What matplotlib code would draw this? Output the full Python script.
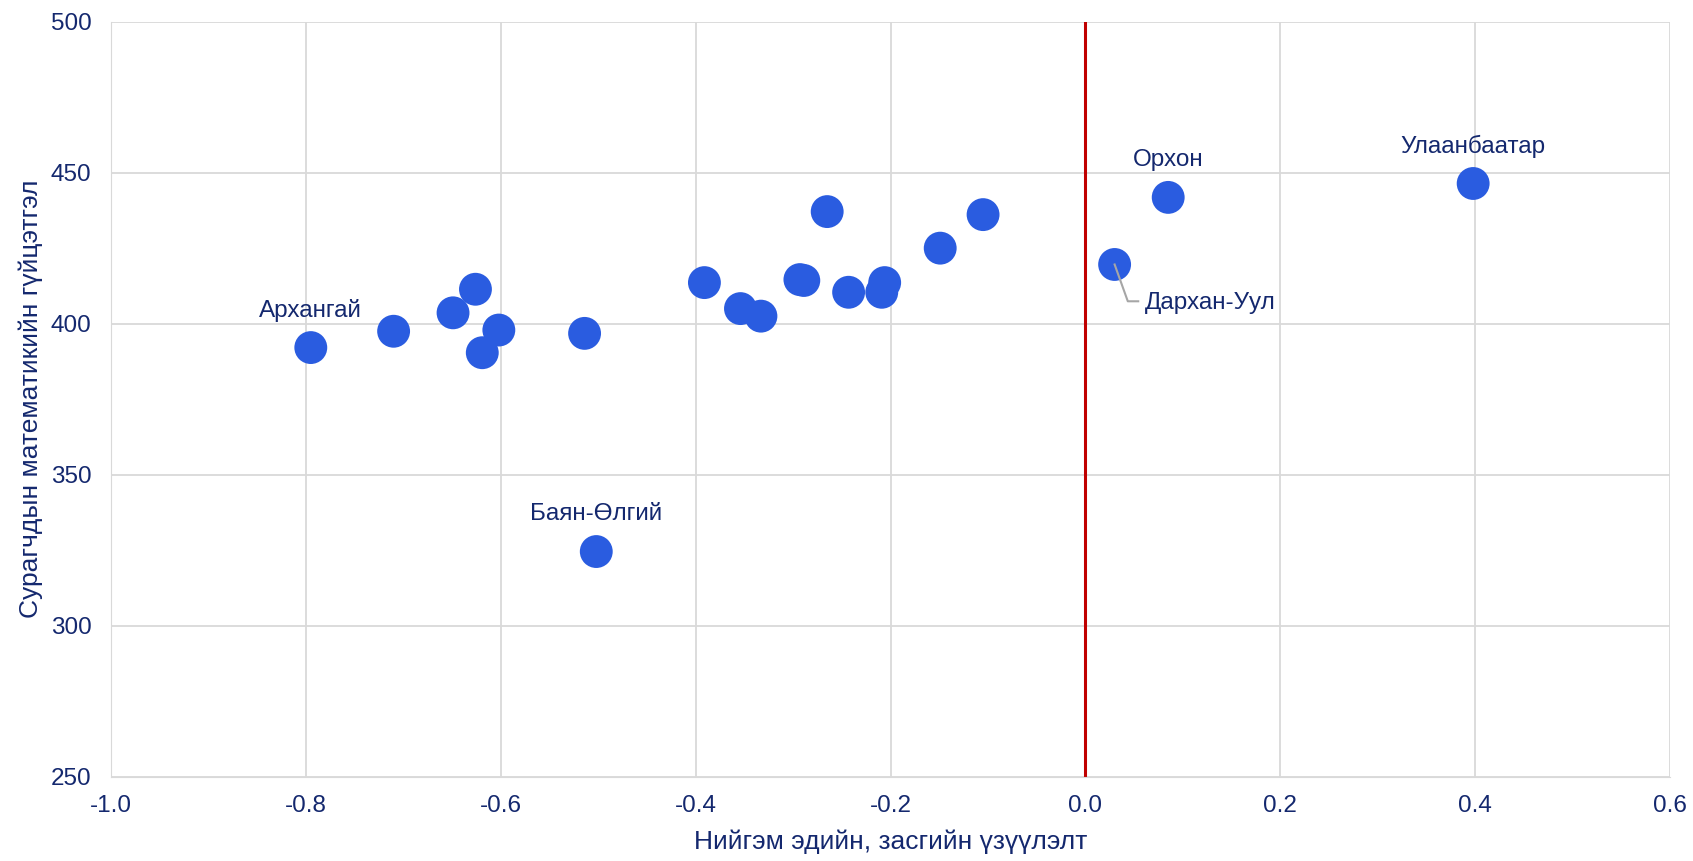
import matplotlib.pyplot as plt

# aimag level data: socio-economic index vs. student math achievement
ses_index = [-0.795, -0.710, -0.649, -0.626, -0.619, -0.602, -0.514, -0.502,
             -0.391, -0.354, -0.333, -0.293, -0.289, -0.265, -0.243, -0.209,
             -0.206, -0.149, -0.105, 0.030, 0.085, 0.398]
math_score = [392.1, 397.5, 403.6, 411.4, 390.4, 397.9, 396.8, 324.6,
              413.6, 405.0, 402.5, 414.6, 414.3, 437.1, 410.4, 410.4,
              413.6, 425.0, 436.1, 419.6, 441.8, 446.4]
labels = {0: 'Архангай', 7: 'Баян-Өлгий', 20: 'Орхон', 21: 'Улаанбаатар'}
callout_idx = 19
callout_text = 'Дархан-Уул'

xticks = [-1.0, -0.8, -0.6, -0.4, -0.2, 0.0, 0.2, 0.4, 0.6]
yticks = [250, 300, 350, 400, 450, 500]

navy = '#14286E'
blue = '#2A5CE0'
grid_c = '#D9D9D9'

plt.rcParams['font.family'] = ['Liberation Sans', 'DejaVu Sans']

fig = plt.figure(figsize=(16.93, 8.61), dpi=100)
ax = fig.add_axes([0.0656, 0.0976, 0.9208, 0.8774])

ax.scatter(ses_index, math_score, s=560, color=blue, edgecolors='none', zorder=3)
ax.axvline(0.0, color='#C00000', lw=2.2, zorder=2)

ax.set_xlim(-1.0, 0.6)
ax.set_ylim(250, 500)
ax.set_xticks(xticks)
ax.set_xticklabels([f'{v:.1f}' for v in xticks])
ax.set_yticks(yticks)
ax.grid(True, color=grid_c, lw=1.3, zorder=0)
for s in ax.spines.values():
    s.set_visible(False)
ax.spines['bottom'].set_visible(True)
ax.spines['bottom'].set_color(grid_c)
ax.spines['left'].set_visible(True)
ax.spines['left'].set_color(grid_c)
ax.tick_params(length=0, labelsize=17.5, colors=navy)
ax.tick_params(axis='x', pad=13)
ax.tick_params(axis='y', pad=14)

ax.set_xlabel('Нийгэм эдийн, засгийн үзүүлэлт', fontsize=19, color=navy, labelpad=9)
ax.set_ylabel('Сурагчдын математикийн гүйцэтгэл', fontsize=19, color=navy,
              family=['Liberation Sans Narrow', 'Liberation Sans', 'DejaVu Sans'], labelpad=6)

for i, name in labels.items():
    ax.annotate(name, (ses_index[i], math_score[i]), xytext=(0, 27),
                textcoords='offset points', ha='center', va='center',
                fontsize=17.5, color=navy)

# leader line callout for Дархан-Уул
px, py = ses_index[callout_idx], math_score[callout_idx]
disp = ax.transData.transform((px, py))
leader = [(0, 0), (9.5, -26.5), (17, -26.5)]
seg_x, seg_y = [], []
for dx, dy in leader:
    x, y = ax.transData.inverted().transform((disp[0] + dx * 100 / 72, disp[1] + dy * 100 / 72))
    seg_x.append(x)
    seg_y.append(y)
ax.plot(seg_x, seg_y, color='#A6A6A6', lw=1.5, zorder=4)
ax.annotate(callout_text, (px, py), xytext=(22, -27.5), textcoords='offset points',
            ha='left', va='center', fontsize=17.5, color=navy)

fig.savefig('out.png', dpi=100)
